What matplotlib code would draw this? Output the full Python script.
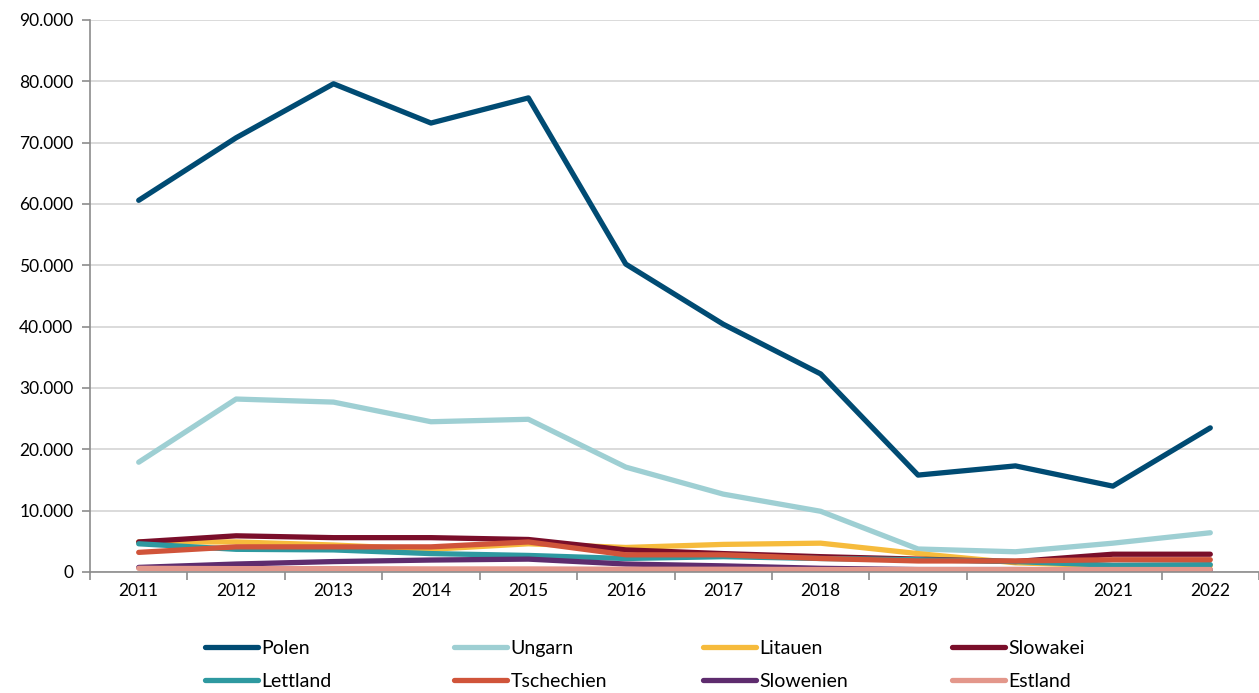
import matplotlib.pyplot as plt
from matplotlib.ticker import FuncFormatter, FixedLocator

plt.rcParams['font.family'] = ['Lato', 'DejaVu Sans']

jahre = [2011, 2012, 2013, 2014, 2015, 2016, 2017, 2018, 2019, 2020, 2021, 2022]

polen = [60600, 70800, 79600, 73200, 77300, 50200, 40400, 32300, 15800, 17300, 14000, 23500]
ungarn = [17900, 28200, 27700, 24500, 24900, 17100, 12700, 9900, 3750, 3300, 4700, 6400]
litauen = [4900, 4900, 4400, 3700, 4600, 4000, 4500, 4700, 3000, 1500, 1000, 1000]
slowakei = [4900, 5900, 5600, 5600, 5300, 3600, 3000, 2500, 2100, 1700, 2900, 2900]
lettland = [4600, 3700, 3600, 3000, 2700, 2200, 2500, 2200, 2000, 1700, 1100, 1200]
tschechien = [3200, 4100, 4100, 4100, 4900, 2800, 2800, 2200, 1800, 1800, 2000, 2000]
slowenien = [750, 1300, 1700, 1950, 2100, 1300, 1000, 600, 400, 400, 350, 350]
estland = [600, 550, 550, 500, 500, 450, 450, 400, 400, 400, 400, 400]

namen = ["Polen", "Ungarn", "Litauen", "Slowakei", "Lettland", "Tschechien", "Slowenien", "Estland"]
werte = [polen, ungarn, litauen, slowakei, lettland, tschechien, slowenien, estland]
farben = ["#004B73", "#9ECFD3", "#F6BB3C", "#7A0E2A", "#2E99A0", "#D0543A", "#5E2C6E", "#E3978B"]

fig = plt.figure(figsize=(12.59, 6.93), dpi=100)
ax = fig.add_axes([90 / 1259, 1 - 572 / 693, 1169 / 1259, 552 / 693])

linien = []
for name, y, c in zip(namen, werte, farben):
    l, = ax.plot(jahre, y, color=c, linewidth=3.8, solid_capstyle='round', label=name)
    linien.append(l)

ax.set_ylim(0, 90000)
ax.set_xlim(jahre[0] - 0.5, jahre[-1] + 0.5)
ax.set_yticks(range(0, 90001, 10000))
ax.yaxis.set_major_formatter(FuncFormatter(lambda v, p: f"{int(v):,}".replace(",", ".")))
ax.grid(axis='y', color='#d4d4d4', linewidth=1.2)
ax.set_axisbelow(True)

# x: Striche zwischen den Kategorien, Beschriftung in der Mitte
ax.xaxis.set_major_locator(FixedLocator([j - 0.5 for j in jahre] + [jahre[-1] + 0.5]))
ax.xaxis.set_major_formatter(FuncFormatter(lambda v, p: ""))
ax.xaxis.set_minor_locator(FixedLocator(jahre))
ax.xaxis.set_minor_formatter(FuncFormatter(lambda v, p: str(int(round(v)))))
ax.tick_params(axis='x', which='major', length=6, width=1.2, color='#8c8c8c')
ax.tick_params(axis='x', which='minor', length=0, labelsize=12.5, pad=8)
ax.tick_params(axis='y', length=6, width=1.2, color='#8c8c8c', labelsize=12.5, pad=6)

for s in ['top', 'right']:
    ax.spines[s].set_visible(False)
for s in ['left', 'bottom']:
    ax.spines[s].set_color('#8c8c8c')
    ax.spines[s].set_linewidth(1.2)

# Legende: 4 Spalten, je eine eigene Legende (2 Zeilen)
spalten_x = [205, 454, 703, 952]
for k, x0 in enumerate(spalten_x):
    h = [linien[k], linien[k + 4]]
    leg = fig.legend(h, [namen[k], namen[k + 4]], loc='upper left',
                     bbox_to_anchor=(x0 / 1259, 1 - 640 / 693), frameon=False,
                     fontsize=14, handlelength=2.7, handletextpad=0.2,
                     labelspacing=0.82, borderpad=0, borderaxespad=0)
    for lh in leg.get_lines():
        lh.set_linewidth(3.8)
        lh.set_solid_capstyle('round')

fig.savefig("out.png", dpi=100)
